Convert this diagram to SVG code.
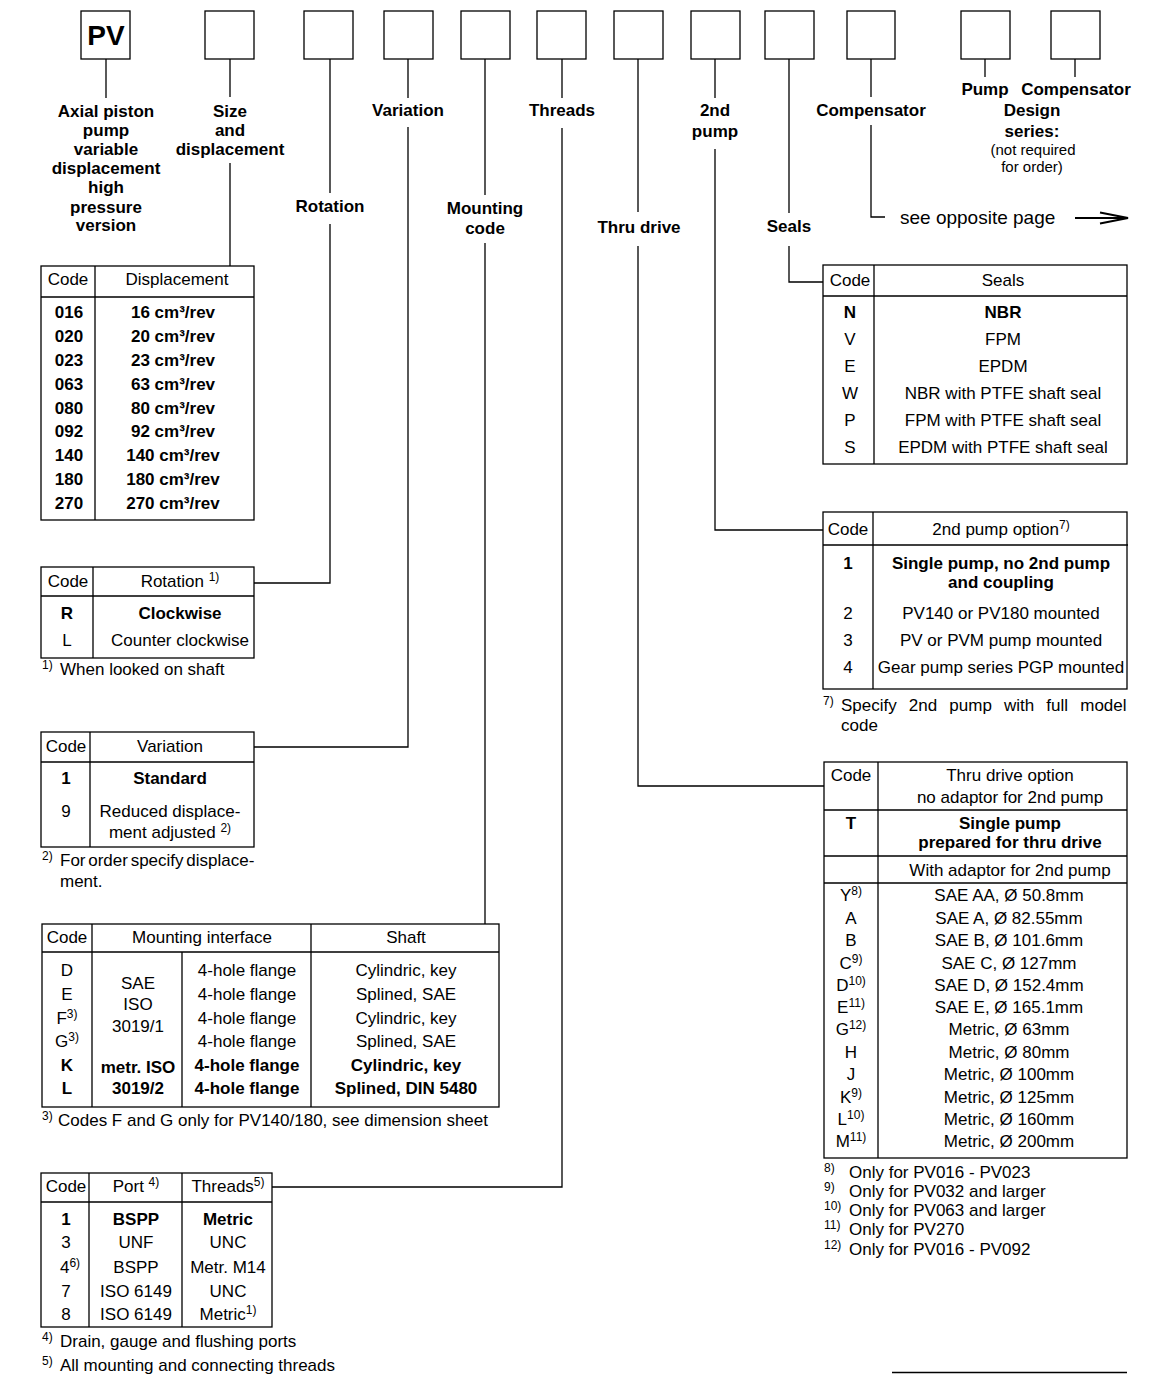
<svg xmlns="http://www.w3.org/2000/svg" width="1166" height="1374" viewBox="0 0 1166 1374">
<style>
text{font-family:"Liberation Sans",Arial,Helvetica,sans-serif;font-size:17px;fill:#000}
.c{text-anchor:middle}
.b{font-weight:bold}
.sm{font-size:15px}
.su{font-size:12px}
.box{fill:#fff;stroke:#000;stroke-width:1.3}
.ln{fill:none;stroke:#000;stroke-width:1.3}
.tb{fill:none;stroke:#000;stroke-width:1.3}
</style>
<rect width="1166" height="1374" fill="#fff"/>

<!-- top code boxes -->
<g id="box-pv"><rect class="box" x="81" y="11" width="49" height="48"/><text class="c b" x="106" y="45" style="font-size:28px">PV</text></g>
<g id="box-size"><rect class="box" x="205" y="11" width="49" height="48"/></g>
<g id="box-rotation"><rect class="box" x="304" y="11" width="49" height="48"/></g>
<g id="box-variation"><rect class="box" x="384" y="11" width="49" height="48"/></g>
<g id="box-mounting"><rect class="box" x="461" y="11" width="49" height="48"/></g>
<g id="box-threads"><rect class="box" x="537" y="11" width="49" height="48"/></g>
<g id="box-thru"><rect class="box" x="614" y="11" width="49" height="48"/></g>
<g id="box-2nd"><rect class="box" x="691" y="11" width="49" height="48"/></g>
<g id="box-seals"><rect class="box" x="765" y="11" width="49" height="48"/></g>
<g id="box-comp"><rect class="box" x="847" y="11" width="48" height="48"/></g>
<g id="box-pumpdesign"><rect class="box" x="961" y="11" width="49" height="48"/></g>
<g id="box-compdesign"><rect class="box" x="1051" y="11" width="49" height="48"/></g>

<!-- labels -->
<g id="labels">
<text class="c b" x="106" y="117">Axial piston</text>
<text class="c b" x="106" y="136">pump</text>
<text class="c b" x="106" y="155">variable</text>
<text class="c b" x="106" y="174">displacement</text>
<text class="c b" x="106" y="193">high</text>
<text class="c b" x="106" y="213">pressure</text>
<text class="c b" x="106" y="231">version</text>
<text class="c b" x="230" y="117">Size</text>
<text class="c b" x="230" y="136">and</text>
<text class="c b" x="230" y="155">displacement</text>
<text class="c b" x="330" y="212">Rotation</text>
<text class="c b" x="408" y="116">Variation</text>
<text class="c b" x="485" y="214">Mounting</text>
<text class="c b" x="485" y="234">code</text>
<text class="c b" x="562" y="116">Threads</text>
<text class="c b" x="639" y="233">Thru drive</text>
<text class="c b" x="715" y="116">2nd</text>
<text class="c b" x="715" y="137">pump</text>
<text class="c b" x="789" y="232">Seals</text>
<text class="c b" x="871" y="116">Compensator</text>
<text class="c b" x="985" y="95">Pump</text>
<text class="c b" x="1076" y="95">Compensator</text>
<text class="c b" x="1032" y="116">Design</text>
<text class="c b" x="1032" y="137">series:</text>
<text class="c sm" x="1033" y="155">(not required</text>
<text class="c sm" x="1032" y="172">for order)</text>
<text x="900" y="224" style="font-size:19px">see opposite page</text>
</g>

<!-- connectors -->
<g id="connectors" class="ln">
<path d="M106 59V98"/>
<path d="M230 59V97M230 163V266"/>
<path d="M330 59V193M330 224V583H254"/>
<path d="M408 59V98M408 127V747H254"/>
<path d="M485 59V195M485 243V924"/>
<path d="M562 59V98M562 128V1187H272"/>
<path d="M638 59V212M638 246V786H824"/>
<path d="M715 59V98M715 149V530H823"/>
<path d="M789 59V213M789 246V282H823"/>
<path d="M871 59V97M871 125V217H885"/>
<path d="M985 59V77"/>
<path d="M1075 59V77"/>
<path d="M1075 218H1126" style="stroke-width:2.2"/>
<path d="M1100 212.5L1128 218L1100 223.5" style="stroke-width:2"/>
</g>

<!-- Displacement table -->
<g id="tbl-displacement">
<rect class="tb" x="41" y="266" width="213" height="254"/>
<path class="tb" d="M41 297H254M95 266V520"/>
<text class="c" x="68" y="285">Code</text>
<text class="c" x="177" y="285">Displacement</text>
<g class="b">
<text class="c" x="69" y="318">016</text><text class="c" x="173" y="318">16 cm³/rev</text>
<text class="c" x="69" y="342">020</text><text class="c" x="173" y="342">20 cm³/rev</text>
<text class="c" x="69" y="366">023</text><text class="c" x="173" y="366">23 cm³/rev</text>
<text class="c" x="69" y="390">063</text><text class="c" x="173" y="390">63 cm³/rev</text>
<text class="c" x="69" y="414">080</text><text class="c" x="173" y="414">80 cm³/rev</text>
<text class="c" x="69" y="437">092</text><text class="c" x="173" y="437">92 cm³/rev</text>
<text class="c" x="69" y="461">140</text><text class="c" x="173" y="461">140 cm³/rev</text>
<text class="c" x="69" y="485">180</text><text class="c" x="173" y="485">180 cm³/rev</text>
<text class="c" x="69" y="509">270</text><text class="c" x="173" y="509">270 cm³/rev</text>
</g>
</g>

<!-- Rotation table -->
<g id="tbl-rotation">
<rect class="tb" x="41" y="567" width="213" height="91"/>
<path class="tb" d="M41 596H254M93 567V658"/>
<text class="c" x="68" y="587">Code</text>
<text class="c" x="180" y="587">Rotation <tspan class="su" dy="-6">1)</tspan></text>
<text class="c b" x="67" y="619">R</text><text class="c b" x="180" y="619">Clockwise</text>
<text class="c" x="67" y="646">L</text><text class="c" x="180" y="646">Counter clockwise</text>
<text class="su" x="42" y="669">1)</text><text x="60" y="675">When looked on shaft</text>
</g>

<!-- Variation table -->
<g id="tbl-variation">
<rect class="tb" x="41" y="732" width="213" height="115"/>
<path class="tb" d="M41 762H254M90 732V847"/>
<text class="c" x="66" y="752">Code</text>
<text class="c" x="170" y="752">Variation</text>
<text class="c b" x="66" y="784">1</text><text class="c b" x="170" y="784">Standard</text>
<text class="c" x="66" y="817">9</text><text class="c" x="170" y="817">Reduced displace-</text>
<text class="c" x="170" y="838">ment adjusted <tspan class="su" dy="-6">2)</tspan></text>
<text class="su" x="42" y="860">2)</text><text x="60" y="866" word-spacing="-2">For order specify displace-</text>
<text x="60" y="887">ment.</text>
</g>

<!-- Mounting table -->
<g id="tbl-mounting">
<rect class="tb" x="42" y="924" width="457" height="183"/>
<path class="tb" d="M42 952H499M92 924V1107M311 924V1107M182 952V1107"/>
<text class="c" x="67" y="943">Code</text>
<text class="c" x="202" y="943">Mounting interface</text>
<text class="c" x="406" y="943">Shaft</text>
<text class="c" x="67" y="976">D</text>
<text class="c" x="67" y="1000">E</text>
<text class="c" x="67" y="1024">F<tspan class="su" dy="-6">3)</tspan></text>
<text class="c" x="67" y="1047">G<tspan class="su" dy="-6">3)</tspan></text>
<text class="c b" x="67" y="1071">K</text>
<text class="c b" x="67" y="1094">L</text>
<text class="c" x="138" y="989">SAE</text>
<text class="c" x="138" y="1010">ISO</text>
<text class="c" x="138" y="1032">3019/1</text>
<text class="c b" x="138" y="1073">metr. ISO</text>
<text class="c b" x="138" y="1094">3019/2</text>
<text class="c" x="247" y="976">4-hole flange</text>
<text class="c" x="247" y="1000">4-hole flange</text>
<text class="c" x="247" y="1024">4-hole flange</text>
<text class="c" x="247" y="1047">4-hole flange</text>
<text class="c b" x="247" y="1071">4-hole flange</text>
<text class="c b" x="247" y="1094">4-hole flange</text>
<text class="c" x="406" y="976">Cylindric, key</text>
<text class="c" x="406" y="1000">Splined, SAE</text>
<text class="c" x="406" y="1024">Cylindric, key</text>
<text class="c" x="406" y="1047">Splined, SAE</text>
<text class="c b" x="406" y="1071">Cylindric, key</text>
<text class="c b" x="406" y="1094">Splined, DIN 5480</text>
<text class="su" x="42" y="1120">3)</text><text x="58" y="1126">Codes F and G only for PV140/180, see dimension sheet</text>
</g>

<!-- Threads table -->
<g id="tbl-threads">
<rect class="tb" x="41" y="1173" width="231" height="154"/>
<path class="tb" d="M41 1202H272M89 1173V1327M182 1173V1327"/>
<text class="c" x="66" y="1192">Code</text>
<text class="c" x="136" y="1192">Port <tspan class="su" dy="-6">4)</tspan></text>
<text class="c" x="228" y="1192">Threads<tspan class="su" dy="-6">5)</tspan></text>
<text class="c b" x="66" y="1225">1</text><text class="c b" x="136" y="1225">BSPP</text><text class="c b" x="228" y="1225">Metric</text>
<text class="c" x="66" y="1248">3</text><text class="c" x="136" y="1248">UNF</text><text class="c" x="228" y="1248">UNC</text>
<text class="c" x="70" y="1273">4<tspan class="su" dy="-6">6)</tspan></text><text class="c" x="136" y="1273">BSPP</text><text class="c" x="228" y="1273">Metr. M14</text>
<text class="c" x="66" y="1297">7</text><text class="c" x="136" y="1297">ISO 6149</text><text class="c" x="228" y="1297">UNC</text>
<text class="c" x="66" y="1320">8</text><text class="c" x="136" y="1320">ISO 6149</text><text class="c" x="228" y="1320">Metric<tspan class="su" dy="-6">1)</tspan></text>
<text class="su" x="42" y="1341">4)</text><text x="60" y="1347">Drain, gauge and flushing ports</text>
<text class="su" x="42" y="1365">5)</text><text x="60" y="1371">All mounting and connecting threads</text>
</g>

<!-- Seals table -->
<g id="tbl-seals">
<rect class="tb" x="823" y="265" width="304" height="199"/>
<path class="tb" d="M823 296H1127M874 265V464"/>
<text class="c" x="850" y="286">Code</text>
<text class="c" x="1003" y="286">Seals</text>
<text class="c b" x="850" y="318">N</text><text class="c b" x="1003" y="318">NBR</text>
<text class="c" x="850" y="345">V</text><text class="c" x="1003" y="345">FPM</text>
<text class="c" x="850" y="372">E</text><text class="c" x="1003" y="372">EPDM</text>
<text class="c" x="850" y="399">W</text><text class="c" x="1003" y="399">NBR with PTFE shaft seal</text>
<text class="c" x="850" y="426">P</text><text class="c" x="1003" y="426">FPM with PTFE shaft seal</text>
<text class="c" x="850" y="453">S</text><text class="c" x="1003" y="453">EPDM with PTFE shaft seal</text>
</g>

<!-- 2nd pump table -->
<g id="tbl-2ndpump">
<rect class="tb" x="823" y="512" width="304" height="177"/>
<path class="tb" d="M823 545H1128M873 512V689"/>
<text class="c" x="848" y="535">Code</text>
<text class="c" x="1001" y="535">2nd pump option<tspan class="su" dy="-6">7)</tspan></text>
<text class="c b" x="848" y="569">1</text><text class="c b" x="1001" y="569">Single pump, no 2nd pump</text>
<text class="c b" x="1001" y="588">and coupling</text>
<text class="c" x="848" y="619">2</text><text class="c" x="1001" y="619">PV140 or PV180 mounted</text>
<text class="c" x="848" y="646">3</text><text class="c" x="1001" y="646">PV or PVM pump mounted</text>
<text class="c" x="848" y="673">4</text><text class="c" x="1001" y="673">Gear pump series PGP mounted</text>
<text class="su" x="823" y="705">7)</text><text x="841" y="711" word-spacing="7.4">Specify 2nd pump with full model</text>
<text x="841" y="731">code</text>
</g>

<!-- Thru drive table -->
<g id="tbl-thrudrive">
<rect class="tb" x="824" y="762" width="303" height="396"/>
<path class="tb" d="M824 810H1127M824 856H1127M824 883H1127M878 762V1158"/>
<text class="c" x="851" y="781">Code</text>
<text class="c" x="1010" y="781">Thru drive option</text>
<text class="c" x="1010" y="803">no adaptor for 2nd pump</text>
<text class="c b" x="851" y="829">T</text><text class="c b" x="1010" y="829">Single pump</text>
<text class="c b" x="1010" y="848">prepared for thru drive</text>
<text class="c" x="1010" y="876">With adaptor for 2nd pump</text>
<text class="c" x="851" y="901">Y<tspan class="su" dy="-6">8)</tspan></text><text class="c" x="1009" y="901">SAE AA, Ø 50.8mm</text>
<text class="c" x="851" y="924">A</text><text class="c" x="1009" y="924">SAE A, Ø 82.55mm</text>
<text class="c" x="851" y="946">B</text><text class="c" x="1009" y="946">SAE B, Ø 101.6mm</text>
<text class="c" x="851" y="969">C<tspan class="su" dy="-6">9)</tspan></text><text class="c" x="1009" y="969">SAE C, Ø 127mm</text>
<text class="c" x="851" y="991">D<tspan class="su" dy="-6">10)</tspan></text><text class="c" x="1009" y="991">SAE D, Ø 152.4mm</text>
<text class="c" x="851" y="1013">E<tspan class="su" dy="-6">11)</tspan></text><text class="c" x="1009" y="1013">SAE E, Ø 165.1mm</text>
<text class="c" x="851" y="1035">G<tspan class="su" dy="-6">12)</tspan></text><text class="c" x="1009" y="1035">Metric, Ø 63mm</text>
<text class="c" x="851" y="1058">H</text><text class="c" x="1009" y="1058">Metric, Ø 80mm</text>
<text class="c" x="851" y="1080">J</text><text class="c" x="1009" y="1080">Metric, Ø 100mm</text>
<text class="c" x="851" y="1103">K<tspan class="su" dy="-6">9)</tspan></text><text class="c" x="1009" y="1103">Metric, Ø 125mm</text>
<text class="c" x="851" y="1125">L<tspan class="su" dy="-6">10)</tspan></text><text class="c" x="1009" y="1125">Metric, Ø 160mm</text>
<text class="c" x="851" y="1147">M<tspan class="su" dy="-6">11)</tspan></text><text class="c" x="1009" y="1147">Metric, Ø 200mm</text>
<text class="su" x="824" y="1172">8)</text><text x="849" y="1178">Only for PV016 - PV023</text>
<text class="su" x="824" y="1191">9)</text><text x="849" y="1197">Only for PV032 and larger</text>
<text class="su" x="824" y="1210">10)</text><text x="849" y="1216">Only for PV063 and larger</text>
<text class="su" x="824" y="1229">11)</text><text x="849" y="1235">Only for PV270</text>
<text class="su" x="824" y="1249">12)</text><text x="849" y="1255">Only for PV016 - PV092</text>
</g>

<g id="bottom-edge"><path class="ln" d="M892 1372.5H1127"/></g>
</svg>
